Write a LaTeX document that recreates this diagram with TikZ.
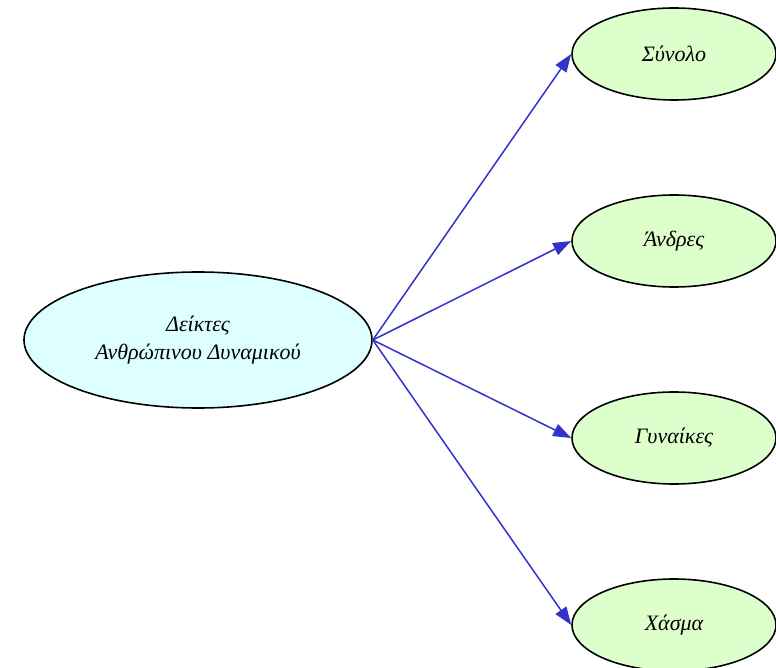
\documentclass[tikz,border=0pt]{standalone}
\usepackage{fontspec}
\setmainfont{Liberation Serif}
\usetikzlibrary{shapes.geometric,arrows.meta}
\definecolor{rootfill}{HTML}{DDFFFF}
\definecolor{leaffill}{HTML}{DDFFCC}
\definecolor{edgeblue}{HTML}{3333CC}
\tikzset{
	rootnode/.style={draw, ellipse, fill=rootfill, line width=1.6pt, minimum width=348pt, minimum height=136pt, inner sep=0pt, align=center, font=\fontsize{22}{28}\selectfont\itshape},
	leafnode/.style={draw, ellipse, fill=leaffill, line width=1.6pt, minimum width=204pt, minimum height=92pt, inner sep=0pt, font=\fontsize{22}{28}\selectfont\itshape},
	edge/.style={draw=edgeblue, line width=1.5pt, -{Triangle[length=18pt,width=13pt,fill=edgeblue]}}
}
\begin{document}
\begin{tikzpicture}[x=1pt, y=-1pt]
		%%%%% START %%%%%
		
		\useasboundingbox (0, 0) rectangle (776, 668);
		
		\node[rootnode] (deiktes) at (198, 340) {Δείκτες\\Ανθρώπινου Δυναμικού};
		
		\node[leafnode] (synolo) at (674, 54) {Σύνολο};
		\node[leafnode] (andres) at (674, 241) {Άνδρες};
		\node[leafnode] (gynaikes) at (674, 438) {Γυναίκες};
		\node[leafnode] (xasma) at (674, 625) {Χάσμα};
		
		\draw[edge] (deiktes.east) -- (synolo.west);
		\draw[edge] (deiktes.east) -- (andres.west);
		\draw[edge] (deiktes.east) -- (gynaikes.west);
		\draw[edge] (deiktes.east) -- (xasma.west);
		
		%%%%% END %%%%%
\end{tikzpicture}
\end{document}
